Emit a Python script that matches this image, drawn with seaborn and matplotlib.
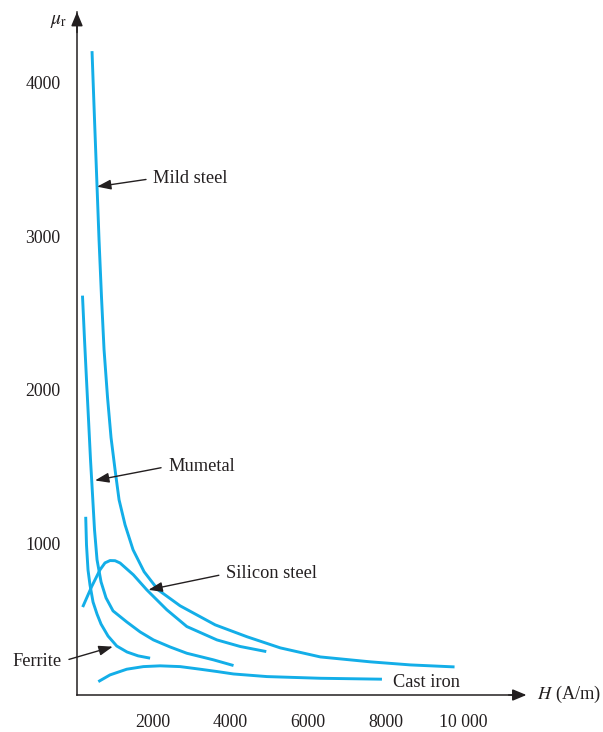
import pandas as pd
import matplotlib.pyplot as plt
import seaborn as sns

# curves: H in A/m, relative permeability mu_r
mild_H = [448, 512, 577, 628, 692, 757, 847, 937, 1040, 1143, 1297, 1503, 1787, 2147,
          2713, 3614, 4437, 5287, 6317, 7604, 8633, 9766]
mild_mu = [4205, 3761, 3324, 2978, 2600, 2261, 1948, 1687, 1478, 1282, 1119, 956, 813, 695,
           591, 467, 389, 317, 258, 226, 206, 193]

mumetal_H = [203, 255, 306, 358, 409, 461, 512, 577, 680, 808, 988, 1341, 1684, 2026,
             2454, 2885, 3570, 4085]
mumetal_mu = [2612, 2326, 2065, 1805, 1544, 1315, 1087, 891, 747, 643, 558, 486, 421, 369,
              323, 282, 239, 202]

ferrite_H = [286, 306, 345, 396, 474, 577, 680, 860, 1084, 1349, 1632, 1941]
ferrite_mu = [1171, 988, 825, 727, 616, 537, 472, 394, 329, 290, 265, 250]

silicon_H = [208, 440, 654, 782, 911, 1040, 1169, 1511, 1856, 2371, 2885, 3658, 4257, 4927]
silicon_mu = [583, 717, 826, 871, 886, 885, 870, 793, 695, 565, 456, 369, 326, 293]

cast_H = [610, 911, 1341, 1768, 2198, 2713, 3228, 3658, 4085, 4945, 6317, 7900]
cast_mu = [97, 141, 178, 195, 200, 195, 178, 163, 147, 130, 119, 113]

x_ticks = [2000, 4000, 6000, 8000, 10000]
x_tick_labels = ['2000', '4000', '6000', '8000', '10 000']
y_ticks = [1000, 2000, 3000, 4000]

curves = {
    'Mild steel': (mild_H, mild_mu),
    'Mumetal': (mumetal_H, mumetal_mu),
    'Ferrite': (ferrite_H, ferrite_mu),
    'Silicon steel': (silicon_H, silicon_mu),
    'Cast iron': (cast_H, cast_mu),
}
frames = [pd.DataFrame({'H': h, 'mu': m, 'material': name}) for name, (h, m) in curves.items()]
df = pd.concat(frames, ignore_index=True)

sns.set_style('white')
plt.rcParams['font.family'] = ['Liberation Serif', 'DejaVu Serif']
plt.rcParams['mathtext.fontset'] = 'stix'

ink = '#231f20'
blue = '#13aee8'

fig = plt.figure(figsize=(6.03, 7.32), dpi=100)
ax = fig.add_axes([77 / 603, 1 - 695 / 732, (522 - 77) / 603, (695 - 12) / 732])

sns.lineplot(data=df, x='H', y='mu', hue='material', units='material', estimator=None,
             sort=False, palette={k: blue for k in curves}, legend=False, lw=2.1, ax=ax)
for ln in ax.get_lines():
    ln.set_solid_joinstyle('round')
    ln.set_solid_capstyle('butt')

ax.set_xlim(62, 11500)
ax.set_ylim(10, 4460)
ax.set_xticks(x_ticks)
ax.set_xticklabels(x_tick_labels)
ax.set_yticks(y_ticks)
ax.set_xlabel('')
ax.set_ylabel('')
for s in ['top', 'right']:
    ax.spines[s].set_visible(False)
for s in ['left', 'bottom']:
    ax.spines[s].set_color(ink)
    ax.spines[s].set_linewidth(1.1)
ax.tick_params(axis='both', direction='out', length=6, width=1, color=ink,
               labelsize=12.8, labelcolor=ink, pad=6)
ax.tick_params(axis='x', pad=8)

# arrow heads on the axes
head = dict(arrowstyle='-|>,head_length=0.6,head_width=0.25', color=ink, lw=1.1,
            mutation_scale=14, shrinkA=0, shrinkB=0)
ax.annotate('', xy=(0, 1.0), xytext=(0, 0.97), xycoords='axes fraction', arrowprops=head)
ax.annotate('', xy=(1.01, 0), xytext=(0.97, 0), xycoords='axes fraction', arrowprops=head)

fig.text(59 / 603, 1 - 22 / 732, r'$\mu_\mathrm{r}$', fontsize=14, color=ink, ha='center', va='center')
fig.text(537 / 603, 1 - 694 / 732, r'$H$ (A/m)', fontsize=13.2, color=ink, ha='left', va='center')

# labels with pointers
fs = 13.2
lab = dict(arrowstyle='-|>,head_length=0.7,head_width=0.25', color=ink, lw=1,
           mutation_scale=12, shrinkA=3, shrinkB=0, relpos=(0, 0.5))
ax.annotate('Mild steel', xy=(577, 3322), xytext=(2026, 3376), fontsize=fs, color=ink,
            ha='left', va='center', arrowprops=lab)
ax.annotate('Mumetal', xy=(525, 1408), xytext=(2412, 1500), fontsize=fs, color=ink,
            ha='left', va='center', arrowprops=lab)
ax.annotate('Silicon steel', xy=(1897, 695), xytext=(3897, 800), fontsize=fs, color=ink,
            ha='left', va='center', arrowprops=lab)
lab_r = dict(lab, relpos=(1, 0.5))
ax.annotate('Ferrite', xy=(981, 325), xytext=(-332, 228), fontsize=fs, color=ink,
            ha='right', va='center', arrowprops=lab_r, annotation_clip=False)
ax.text(8196, 91, 'Cast iron', fontsize=fs, color=ink, ha='left', va='center')

fig.savefig('out.png', dpi=100)
